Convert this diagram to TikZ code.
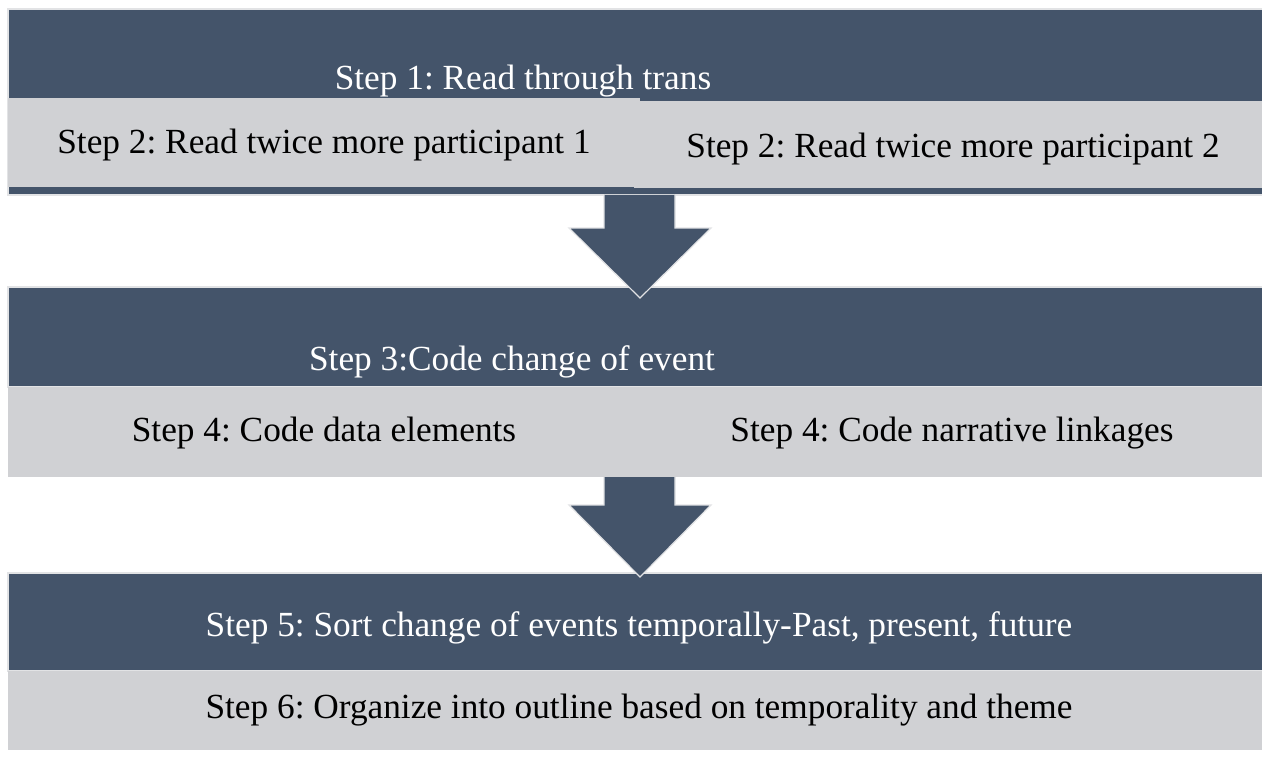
\documentclass[tikz,border=0pt]{standalone}
\usepackage{fontspec}
\setmainfont{Liberation Serif}
\frenchspacing
\definecolor{dk}{HTML}{44546A}
\definecolor{lg}{HTML}{D0D1D4}
\definecolor{edge}{HTML}{E2E3E5}
\begin{document}
\begin{tikzpicture}[x=1pt,y=-1pt,
  darkbox/.style={fill=dk, draw=edge, line width=1.2pt, inner sep=0pt, outer sep=0pt, anchor=north west},
  greybox/.style={fill=lg, draw=none, inner sep=0pt, outer sep=0pt, anchor=north west},
  lbl/.style={font=\fontsize{35.3}{40}\selectfont, inner sep=0pt, anchor=base},
  wlbl/.style={lbl, text=white},
  blockarrow/.style={fill=dk, draw=edge, line width=1.2pt, line join=miter}]
\useasboundingbox (0,0) rectangle (1262,757);
\fill[white] (0,0) rectangle (1262,757);
% ---- block 1
\node[darkbox, minimum width=1260pt, minimum height=186pt] (b1) at (8,9) {};
\node[greybox, minimum width=632pt, minimum height=89pt] (g1a) at (8,98) {};
\node[greybox, minimum width=632pt, minimum height=87pt] (g1b) at (634,101) {};
\node[wlbl] (t1) at (523,90) {Step 1: Read through trans};
\node[lbl] (t2a) at (324,154) {Step 2: Read twice more participant 1};
\node[lbl] (t2b) at (953,158) {Step 2: Read twice more participant 2};
% ---- block 2
\node[darkbox, minimum width=1260pt, minimum height=100pt] (b2) at (8,287) {};
\node[greybox, minimum width=1260pt, minimum height=90pt] (g2) at (8,387) {};
\node[wlbl] (t3) at (512,370) {Step 3:Code change of event};
\node[lbl] (t4a) at (324,441) {Step 4: Code data elements};
\node[lbl] (t4b) at (952,441) {Step 4: Code narrative linkages};
% ---- block 3
\node[darkbox, minimum width=1260pt, minimum height=98pt] (b3) at (8,573) {};
\node[greybox, minimum width=1260pt, minimum height=79pt] (g3) at (8,671) {};
\node[wlbl] (t5) at (639,636) {Step 5: Sort change of events temporally-Past, present, future};
\node[lbl] (t6) at (639,718) {Step 6: Organize into outline based on temporality and theme};
% ---- arrows
\draw[blockarrow] (604,195) -- (604,228) -- (569,228) -- (640,298) -- (711,228) -- (675,228) -- (675,195);
\draw[blockarrow] (604,477) -- (604,505) -- (569,505) -- (640,577) -- (711,505) -- (675,505) -- (675,477);
\end{tikzpicture}
\end{document}
